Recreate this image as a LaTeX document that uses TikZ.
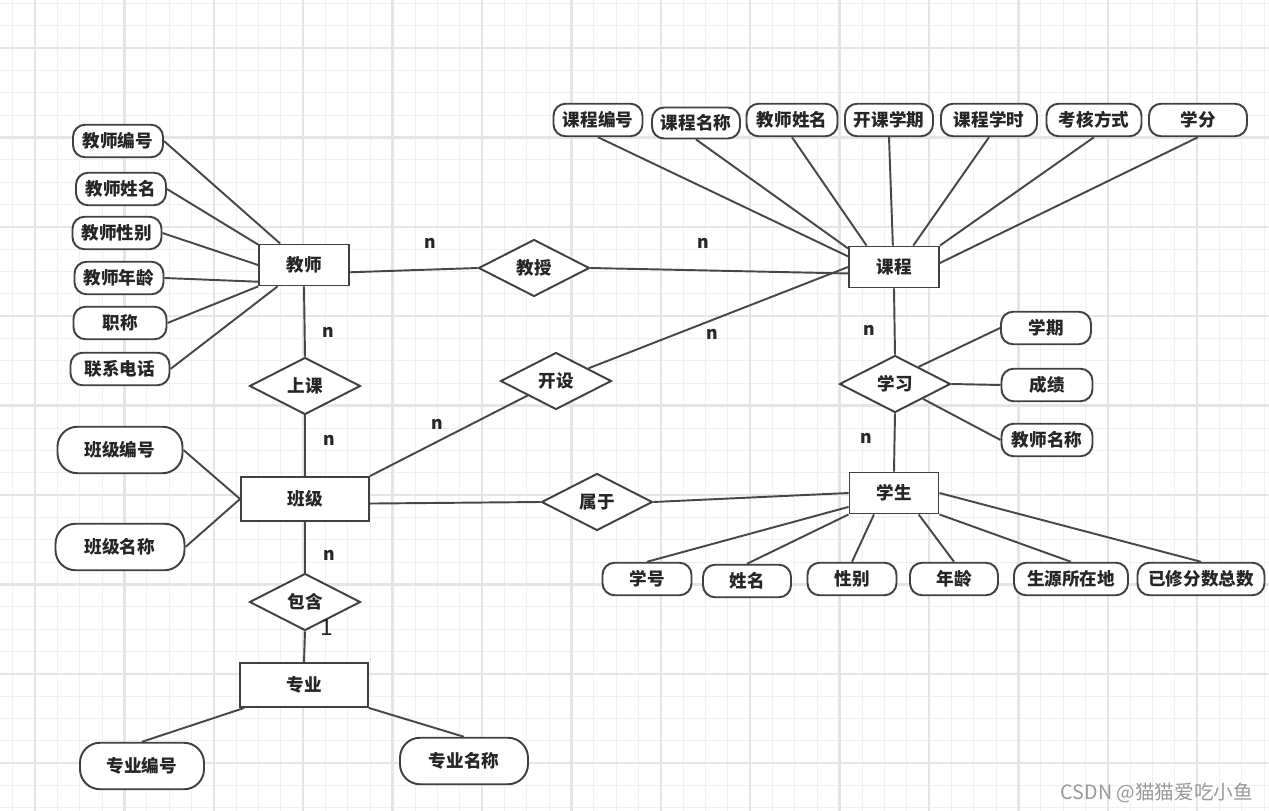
\documentclass[tikz,border=0pt]{standalone}
\usepackage{fontspec}
\newfontfamily\cjk{Noto Sans CJK SC}
\usetikzlibrary{shapes.geometric}

\begin{document}
\begin{tikzpicture}[x=0.02cm, y=-0.02cm,
		gridthin/.style={draw=black!6, line width=0.5pt},
		gridthick/.style={draw=black!10, line width=1.3pt},
		ent/.style={rectangle, draw=black!75, line width=1.1pt, fill=white, font=\cjk\bfseries, text=black!85, minimum width=#1, minimum height=0.82cm},
		ent/.default=1.8cm,
		attr/.style={rectangle, rounded corners=0.24cm, draw=black!75, line width=1.1pt, fill=white, font=\cjk\bfseries, text=black!85, inner sep=2pt, minimum width=#1, minimum height=0.65cm},
		attr/.default=1.8cm,
		bigattr/.style={attr=#1, rounded corners=0.4cm, minimum height=0.93cm},
		rel/.style={diamond, aspect=2, draw=black!75, line width=1.1pt, fill=white, font=\cjk\bfseries, text=black!85, inner sep=0pt, minimum width=2.22cm, minimum height=1.14cm},
		link/.style={draw=black!72, line width=1.1pt},
		card/.style={font=\cjk\bfseries, text=black!85}]
		\useasboundingbox (0,0) rectangle (1269,811);
		\fill[white] (0,0) rectangle (1269,811);
		% grid paper
		\foreach \i in {0,...,56} \draw[gridthin] ({12.65+22.35*\i},0) -- ({12.65+22.35*\i},811);
		\foreach \j in {0,...,36} \draw[gridthin] (0,{3.3+22.35*\j}) -- (1269,{3.3+22.35*\j});
		\foreach \i in {0,...,13} \draw[gridthick] ({35+89.4*\i},0) -- ({35+89.4*\i},811);
		\foreach \j in {0,...,8} \draw[gridthick] (0,{48+89.4*\j}) -- (1269,{48+89.4*\j});
		
		% entities
		\node[ent] (teacher) at (304,265) {教师};
		\node[ent] (course) at (894,267) {课程};
		\node[ent=2.56cm, minimum height=0.88cm] (cls) at (305,499) {班级};
		\node[ent=1.78cm] (stu) at (894,493) {学生};
		\node[ent=2.56cm, minimum height=0.88cm] (major) at (304,685) {专业};
		
		% relations
		\node[rel] (teach) at (534,268) {教授};
		\node[rel] (attend) at (305,386) {上课};
		\node[rel] (offer) at (556,381) {开设};
		\node[rel] (study) at (895,384) {学习};
		\node[rel] (belong) at (597,502) {属于};
		\node[rel] (contain) at (305,602) {包含};
		
		% teacher attributes
		\node[attr] (tno) at (118,141) {教师编号};
		\node[attr] (tname) at (121,189) {教师姓名};
		\node[attr=1.78cm] (tsex) at (117,233) {教师性别};
		\node[attr=1.78cm] (tage) at (119,278) {教师年龄};
		\node[attr=1.86cm] (ttitle) at (120,323) {职称};
		\node[attr=1.98cm] (tphone) at (120,369) {联系电话};
		
		% course attributes
		\node[attr=1.78cm] (cno) at (598,120) {课程编号};
		\node[attr=1.76cm, minimum height=0.62cm] (cname) at (696,123) {课程名称};
		\node[attr=1.82cm] (ctname) at (792,120) {教师姓名};
		\node[attr=1.76cm] (cterm) at (889,120) {开课学期};
		\node[attr=1.92cm] (chours) at (989,120) {课程学时};
		\node[attr=1.9cm] (cexam) at (1094,120) {考核方式};
		\node[attr=1.96cm] (ccredit) at (1198,120) {学分};
		
		% class and major attributes
		\node[bigattr=2.5cm] (clno) at (120,450) {班级编号};
		\node[bigattr=2.58cm] (clname) at (120,547) {班级名称};
		\node[bigattr=2.48cm] (mno) at (142,766) {专业编号};
		\node[bigattr=2.56cm] (mname) at (464,761) {专业名称};
		
		% study attributes
		\node[attr] (sterm) at (1046,328) {学期};
		\node[attr=1.82cm] (sgrade) at (1047,385) {成绩};
		\node[attr=1.82cm] (steach) at (1047,440) {教师名称};
		
		% student attributes
		\node[attr=1.78cm] (sno) at (647,579) {学号};
		\node[attr=1.76cm] (sname) at (747,581) {姓名};
		\node[attr=1.78cm] (ssex) at (852,579) {性别};
		\node[attr=1.76cm] (sage) at (954,579) {年龄};
		\node[attr=2.28cm] (sorigin) at (1071,579) {生源所在地};
		\node[attr=2.54cm] (scredit) at (1201,579) {已修分数总数};
		
		% connectors
		\draw[link] (tno.east) -- (teacher.138);
		\draw[link] (tname.east) -- (teacher.156);
		\draw[link] (tsex.east) -- (teacher.west);
		\draw[link] (tage.east) -- (teacher.200);
		\draw[link] (ttitle.east) -- (teacher.south west);
		\draw[link] (tphone.east) -- (teacher.219);
		
		\draw[link] (cno.south) -- (course.167);
		\draw[link] (cname.south) -- (course.158);
		\draw[link] (ctname.south) -- (course.142);
		\draw[link] (cterm.south) -- (course.93);
		\draw[link] (chours.south) -- (course.48);
		\draw[link] (cexam.south) -- (course.north east);
		\draw[link] (ccredit.south) -- (course.5);
		
		\draw[link] (teacher.-9) -- (teach.west);
		\draw[link] (teach.east) -- (course.188);
		\draw[link] (teacher.south) -- (attend.north);
		\draw[link] (attend.south) -- (cls.north);
		\draw[link] (cls.north east) -- (offer);
		\draw[link] (offer) -- (course.west);
		\draw[link] (course.south) -- (study.north);
		\draw[link] (study.south) -- (stu.north);
		\draw[link] (cls.-4) -- (belong.west);
		\draw[link] (belong.east) -- (stu.west);
		\draw[link] (cls.south) -- (contain.north);
		\draw[link] (contain.south) -- (major.north);
		
		\draw[link] (clno.east) -- (cls.west);
		\draw[link] (clname.east) -- (cls.west);
		\draw[link] (major.201) -- (mno.north);
		\draw[link] (major.south east) -- (mname.north);
		
		\draw[link] (sterm.west) -- (study.36);
		\draw[link] (sgrade.west) -- (study.east);
		\draw[link] (steach.west) -- (study.332);
		
		\draw[link] (sno.north) -- (stu.197);
		\draw[link] (sname.north) -- (stu.south west);
		\draw[link] (ssex.north) -- (stu.227);
		\draw[link] (sage.north) -- (stu.319);
		\draw[link] (sorigin.north) -- (stu.south east);
		\draw[link] (scredit.north) -- (stu.east);
		
		% cardinalities
		\node[card] (n1) at (430,243) {n};
		\node[card] (n2) at (703,243) {n};
		\node[card] (n3) at (328,332) {n};
		\node[card] (n4) at (329,440) {n};
		\node[card] (n5) at (329,555) {n};
		\node[card] (n6) at (712,334) {n};
		\node[card] (n7) at (437,424) {n};
		\node[card] (n8) at (869,330) {n};
		\node[card] (n9) at (866,438) {n};
		\node[font=\cjk\fontsize{13}{15}\selectfont, text=black!85] (one) at (327,627) {1};
		
		\node[font=\cjk\fontsize{11.2}{13}\selectfont, text=black!40] (mark) at (1157,793) {CSDN @猫猫爱吃小鱼};
	\end{tikzpicture}
\end{document}
